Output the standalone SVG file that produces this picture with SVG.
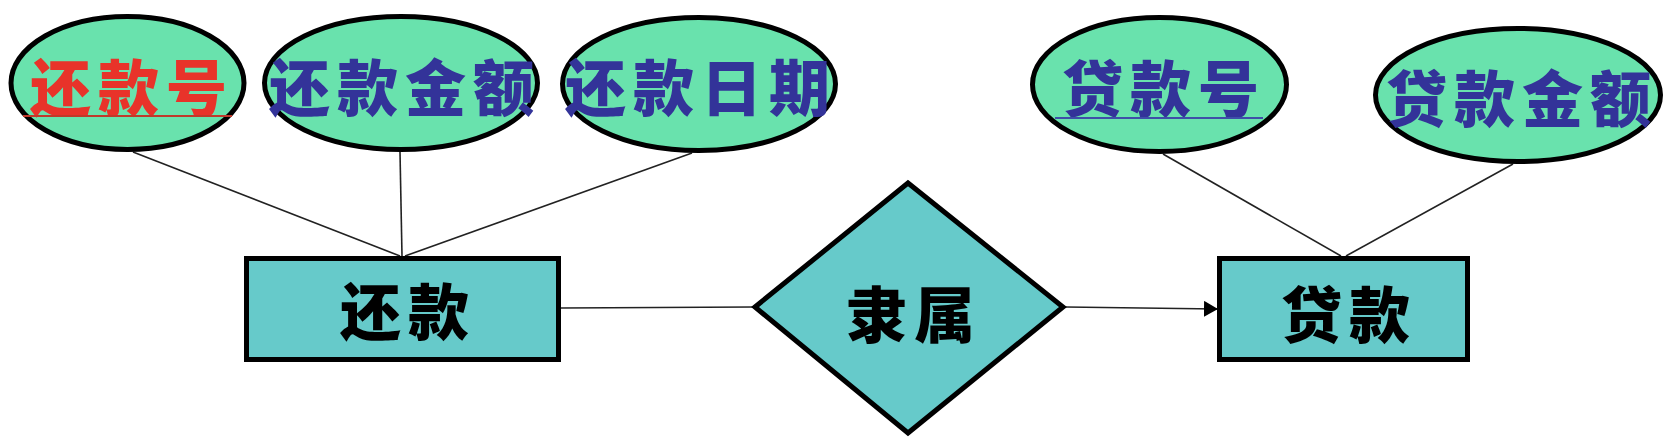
<svg xmlns="http://www.w3.org/2000/svg" width="1676" height="442" viewBox="0 0 1676 442">
<style>
.attr{fill:#69E2AD;stroke:#000;stroke-width:5}
.ent{fill:#66CACA;stroke:#000;stroke-width:5}
.t{font-family:"Noto Sans CJK SC","Noto Sans CJK TC",sans-serif;font-weight:900;font-size:61px;letter-spacing:7px}
.blue{fill:#333399}
.red{fill:#E8332A}
.blk{fill:#000}
.ln{stroke:#222;stroke-width:1.6;fill:none}
</style>
<defs>
<marker id="arr" markerWidth="14" markerHeight="16" refX="13" refY="8" orient="auto" markerUnits="userSpaceOnUse">
<path d="M0,0 L14,8 L0,16 Z" fill="#000"/>
</marker>
</defs>
<g id="connectors">
<line class="ln" x1="133" y1="152" x2="400" y2="256"/>
<line class="ln" x1="400" y1="152" x2="402" y2="256"/>
<line class="ln" x1="692" y1="153" x2="405" y2="256"/>
<line class="ln" x1="1163" y1="154" x2="1341" y2="256"/>
<line class="ln" x1="1513" y1="164" x2="1346" y2="256"/>
<line class="ln" x1="561" y1="308" x2="753" y2="307"/>
<line class="ln" x1="1066" y1="307" x2="1217" y2="309" marker-end="url(#arr)"/>
</g>
<g id="attr-huankuanhao">
<ellipse class="attr" cx="127.5" cy="83" rx="116.5" ry="66.5"/>
<text class="t red" x="30" y="111">还款号</text>
<line x1="23" y1="116" x2="232" y2="116" stroke="#C0392B" stroke-width="1.8"/>
</g>
<g id="attr-huankuanjine">
<ellipse class="attr" cx="401" cy="83" rx="136.5" ry="66.5"/>
<text class="t blue" x="269" y="111">还款金额</text>
</g>
<g id="attr-huankuanriqi">
<ellipse class="attr" cx="699" cy="84" rx="136.5" ry="66.5"/>
<text class="t blue" x="565" y="111">还款日期</text>
</g>
<g id="attr-daikuanhao">
<ellipse class="attr" cx="1159.5" cy="84.5" rx="127" ry="67"/>
<text class="t blue" x="1062" y="112">贷款号</text>
<line x1="1055" y1="118" x2="1263" y2="118" stroke="#3E4FA8" stroke-width="2"/>
</g>
<g id="attr-daikuanjine">
<ellipse class="attr" cx="1518" cy="95" rx="142.5" ry="66.5"/>
<text class="t blue" x="1386" y="122">贷款金额</text>
</g>
<g id="ent-huankuan">
<rect class="ent" x="246.5" y="258.5" width="312" height="101"/>
<text class="t blk" x="340" y="335">还款</text>
</g>
<g id="rel-lishu">
<polygon class="ent" points="755,307 908,183 1063,307 908,433"/>
<text class="t blk" x="846" y="338">隶属</text>
</g>
<g id="ent-daikuan">
<rect class="ent" x="1219.5" y="258.5" width="248" height="101"/>
<text class="t blk" x="1281" y="338">贷款</text>
</g>
</svg>
